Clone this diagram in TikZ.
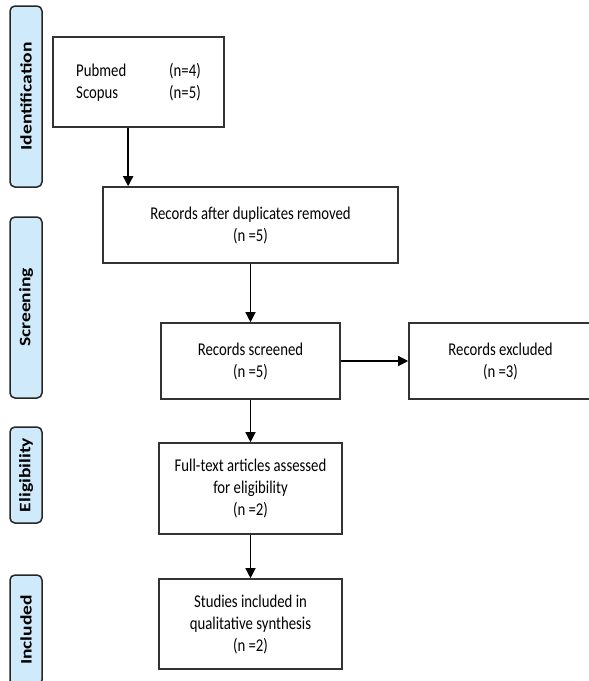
\documentclass[tikz,border=0pt]{standalone}
\usepackage{fontspec}
\setmainfont{Carlito}[FakeStretch=0.82]
\newfontfamily\sidefont{Carlito}[FakeStretch=1.22]
\usetikzlibrary{calc,arrows.meta}
\definecolor{sideblue}{HTML}{CFEAFA}

\begin{document}
\begin{tikzpicture}[x=1pt,y=-1pt,
    box/.style={draw=black!80,line width=1.6pt,fill=white,align=center,inner sep=0pt,
      font=\fontsize{18}{22}\selectfont},
    side/.style={draw=black!85,line width=1.5pt,fill=sideblue,rounded corners=5pt,rotate=90,
      minimum height=32pt,inner sep=0pt,font=\sidefont\bfseries\fontsize{16}{19}\selectfont},
    arr/.style={-{Triangle[length=10pt,width=10pt]},line width=1.4pt}]
  \fill[white](0,0)rectangle(589,681);
  \useasboundingbox(0,0)rectangle(589,681);
  % phase labels
  \node[side,minimum width=181pt](identification)at(26,96.5){Identification};
  \node[side,minimum width=181pt](screening)at(26,307.5){Screening};
  \node[side,minimum width=96pt](eligibility)at(26,475){Eligibility};
  \node[side,minimum width=110pt](included)at(26,630){Included};
  % boxes
  \node[box,minimum width=171pt,minimum height=90pt](search)at(138.5,82)
    {\makebox[93pt][l]{Pubmed}(n=4)\\\makebox[93pt][l]{Scopus}(n=5)};
  \node[box,minimum width=295pt,minimum height=76pt](dedup)at(250.5,225)
    {Records after duplicates removed\\(n =5)};
  \node[box,minimum width=179pt,minimum height=76pt](screened)at(250.5,361)
    {Records screened\\(n =5)};
  \node[box,minimum width=183pt,minimum height=76pt](excluded)at(500.5,361)
    {Records excluded\\(n =3)};
  \node[box,minimum width=183pt,minimum height=91pt](fulltext)at(250.5,488.5)
    {Full-text articles assessed\\for eligibility\\(n =2)};
  \node[box,minimum width=183pt,minimum height=90pt](studies)at(250.5,624)
    {Studies included in\\qualitative synthesis\\(n =2)};
  % arrows
  \coordinate(drop)at($(search.south west)!0.44!(search.south east)$);
  \draw[arr](drop)--(drop|-dedup.north);
  \draw[arr](dedup.south)--(screened.north);
  \draw[arr](screened.east)--(excluded.west);
  \draw[arr](screened.south)--(fulltext.north);
  \draw[arr](fulltext.south)--(studies.north);
\end{tikzpicture}
\end{document}
